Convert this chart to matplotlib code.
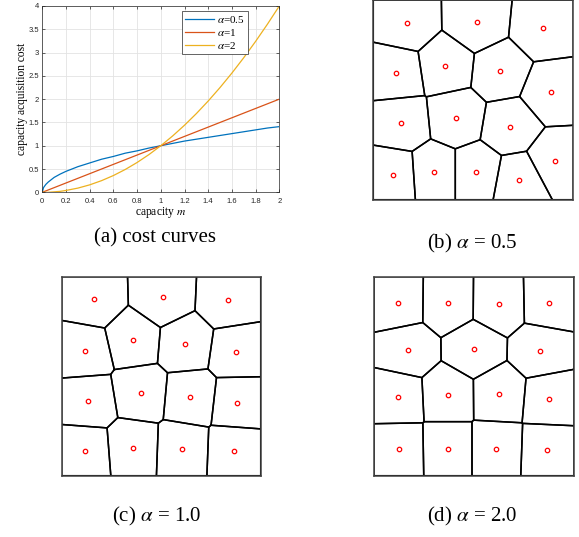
import numpy as np
import matplotlib
matplotlib.use("Agg")
import matplotlib.pyplot as plt

plt.rcParams["mathtext.fontset"] = "stix"

# (a) cost curves
capacity = [0, 0.01, 0.03, 0.05, 0.1, 0.15, 0.2, 0.3, 0.4, 0.5, 0.6, 0.7, 0.8, 0.9,
            1.0, 1.1, 1.2, 1.3, 1.4, 1.5, 1.6, 1.7, 1.8, 1.9, 2.0]
cost_05 = [0, 0.1, 0.17, 0.22, 0.32, 0.39, 0.45, 0.55, 0.63, 0.71, 0.77, 0.84, 0.89, 0.95,
           1.0, 1.05, 1.1, 1.14, 1.18, 1.22, 1.26, 1.30, 1.34, 1.38, 1.41]
cost_1 = [0, 0.01, 0.03, 0.05, 0.1, 0.15, 0.2, 0.3, 0.4, 0.5, 0.6, 0.7, 0.8, 0.9,
          1.0, 1.1, 1.2, 1.3, 1.4, 1.5, 1.6, 1.7, 1.8, 1.9, 2.0]
cost_2 = [0, 0, 0, 0, 0.01, 0.02, 0.04, 0.09, 0.16, 0.25, 0.36, 0.49, 0.64, 0.81,
          1.0, 1.21, 1.44, 1.69, 1.96, 2.25, 2.56, 2.89, 3.24, 3.61, 4.0]
curve_labels = [r"$\alpha$=0.5", r"$\alpha$=1", r"$\alpha$=2"]

# sites of the partitions (unit square, y up)
sites_b_x = [0.167, 0.517, 0.847, 0.115, 0.360, 0.635, 0.888, 0.140, 0.415, 0.683,
             0.907, 0.098, 0.305, 0.515, 0.728]
sites_b_y = [0.885, 0.890, 0.858, 0.634, 0.671, 0.642, 0.540, 0.383, 0.411, 0.366,
             0.194, 0.125, 0.139, 0.139, 0.099]
sites_c_x = [0.161, 0.507, 0.838, 0.115, 0.358, 0.622, 0.878, 0.134, 0.396, 0.647,
             0.883, 0.115, 0.358, 0.604, 0.865]
sites_c_y = [0.886, 0.896, 0.881, 0.626, 0.682, 0.660, 0.623, 0.374, 0.417, 0.394,
             0.367, 0.122, 0.141, 0.132, 0.122]
sites_d_x = [0.122, 0.368, 0.625, 0.875, 0.170, 0.500, 0.832, 0.120, 0.368, 0.627,
             0.877, 0.125, 0.368, 0.612, 0.865]
sites_d_y = [0.869, 0.866, 0.864, 0.869, 0.631, 0.635, 0.628, 0.395, 0.407, 0.409,
             0.387, 0.132, 0.136, 0.136, 0.127]
captions = ["(a) cost curves", r"(b) $\alpha$ = 0.5", r"(c) $\alpha$ = 1.0", r"(d) $\alpha$ = 2.0"]


def clip(poly, a, b, c):
    # keep the part of poly with a*x + b*y <= c
    out = []
    n = len(poly)
    for i in range(n):
        p, q = poly[i], poly[(i + 1) % n]
        fp = a * p[0] + b * p[1] - c
        fq = a * q[0] + b * q[1] - c
        if fp <= 0:
            out.append(p)
        if fp * fq < 0:
            t = fp / (fp - fq)
            out.append((p[0] + t * (q[0] - p[0]), p[1] + t * (q[1] - p[1])))
    return out


def voronoi_cells(xs, ys):
    cells = []
    for i in range(len(xs)):
        poly = [(0, 0), (1, 0), (1, 1), (0, 1)]
        for j in range(len(xs)):
            if i == j:
                continue
            a = xs[j] - xs[i]
            b = ys[j] - ys[i]
            c = (xs[j] ** 2 + ys[j] ** 2 - xs[i] ** 2 - ys[i] ** 2) / 2
            poly = clip(poly, a, b, c)
        cells.append(poly)
    return cells


def draw_partition(ax, xs, ys):
    for cell in voronoi_cells(xs, ys):
        px = [p[0] for p in cell] + [cell[0][0]]
        py = [p[1] for p in cell] + [cell[0][1]]
        ax.plot(px, py, color="black", lw=1.1, solid_capstyle="round")
    ax.plot(xs, ys, "o", ms=3.2, mfc="none", mec="red", mew=0.9)
    ax.set_xlim(0, 1)
    ax.set_ylim(0, 1)
    ax.set_xticks([])
    ax.set_yticks([])
    for s in ax.spines.values():
        s.set_color("#404040")
        s.set_linewidth(1.1)
        s.set_zorder(5)


W, H = 579, 537
fig = plt.figure(figsize=(W / 100, H / 100), dpi=100)

# (a)
ax = fig.add_axes([42.3 / W, 1 - 192.3 / H, 237 / W, 186.3 / H])
colors = ["#0072BD", "#D95319", "#EDB120"]
for yv, col, lab in zip([cost_05, cost_1, cost_2], colors, curve_labels):
    ax.plot(capacity, yv, color=col, lw=0.9, label=lab)
ax.set_xlim(0, 2)
ax.set_ylim(0, 4)
ax.set_xticks(np.arange(0, 2.01, 0.2))
ax.set_xticklabels(["0", "0.2", "0.4", "0.6", "0.8", "1", "1.2", "1.4", "1.6", "1.8", "2"])
ax.set_yticks(np.arange(0, 4.01, 0.5))
ax.set_yticklabels(["0", "0.5", "1", "1.5", "2", "2.5", "3", "3.5", "4"])
ax.grid(True, color="#e3e3e3", lw=0.6)
ax.set_axisbelow(True)
ax.tick_params(direction="in", length=2, width=0.5, labelsize=5.5, colors="#262626",
               top=True, right=True)
ax.tick_params(axis="x", pad=4)
ax.tick_params(axis="y", pad=2.5)
for lab in ax.get_xticklabels() + ax.get_yticklabels():
    lab.set_family("Liberation Sans")
for s in ax.spines.values():
    s.set_color("#262626")
    s.set_linewidth(0.5)
ax.set_xlabel(r"capacity $m$", family="Liberation Serif", fontsize=8.3)
ax.set_ylabel("capacity acquisition cost", family="Liberation Serif", fontsize=8.3)
ax.xaxis.set_label_coords(0.5, -0.11)
ax.xaxis.label.set_va("center")
ax.yaxis.set_label_coords(-0.086, 0.5)
ax.yaxis.label.set_va("center")
leg = ax.legend(loc="upper right", bbox_to_anchor=(0.87, 0.973), borderaxespad=0,
                prop={"family": "Liberation Serif", "size": 8}, fancybox=False,
                framealpha=1, edgecolor="#262626", handlelength=2.6, handletextpad=0.3,
                labelspacing=0.15, borderpad=0.3)
leg.get_frame().set_linewidth(0.5)

# (b), (c), (d)
axb = fig.add_axes([373.3 / W, 1 - 199.7 / H, 200 / W, 199.7 / H])
draw_partition(axb, sites_b_x, sites_b_y)
axc = fig.add_axes([61.7 / W, 1 - 475.7 / H, 199 / W, 199 / H])
draw_partition(axc, sites_c_x, sites_c_y)
axd = fig.add_axes([374 / W, 1 - 475.7 / H, 200 / W, 199 / H])
draw_partition(axd, sites_d_x, sites_d_y)

cap = dict(family="Liberation Serif", fontsize=15, ha="center", va="center")
fig.text(155 / W, 1 - 238 / H, captions[0], **cap)
fig.text(472 / W, 1 - 243 / H, captions[1], **cap)
fig.text(157 / W, 1 - 516 / H, captions[2], **cap)
fig.text(472 / W, 1 - 516 / H, captions[3], **cap)

fig.savefig("out.png", dpi=100)
